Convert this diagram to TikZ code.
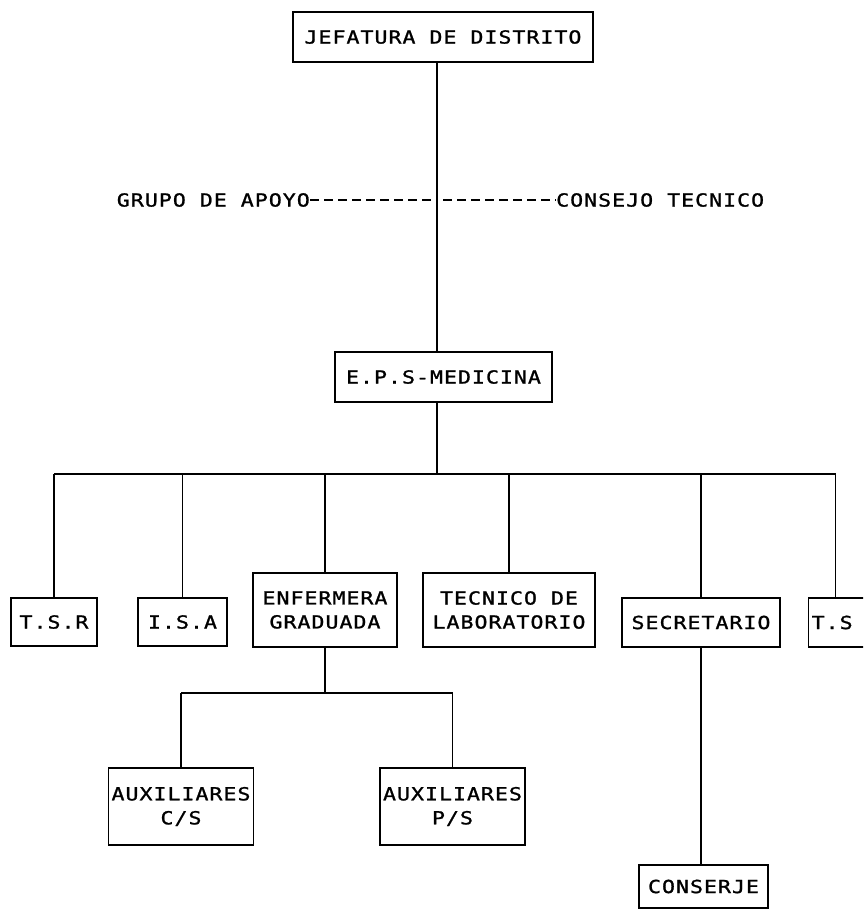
\documentclass[tikz,border=0pt]{standalone}
\usepackage{fontspec}
\newfontfamily\dotfont[FakeStretch=1.2, LetterSpace=5.5, FakeBold=1.2]{DejaVu Sans Mono}
\tikzset{
  every node/.style={font=\dotfont\fontsize{18}{24}\selectfont},
  box/.style={draw, line width=1.3pt, inner xsep=3pt, inner ysep=3pt, align=center},
  link/.style={line width=1.3pt},
  dashlink/.style={line width=1.1pt, dash pattern=on 9pt off 5pt},
  lbl/.style={inner sep=0pt}
}
\begin{document}
\begin{tikzpicture}[x=1pt,y=-1pt]
\useasboundingbox (0,0) rectangle (863,911);
\clip (0,0) rectangle (863,911);
% boxes
\node[box, minimum width=300pt, minimum height=50pt] (jef) at (443,37) {JEFATURA DE DISTRITO};
\node[box, minimum width=217pt, minimum height=50pt] (eps) at (443.5,377) {E.P.S-MEDICINA};
\node[box, minimum width=86pt, minimum height=48pt] (tsr) at (54,622) {T.S.R};
\node[box, minimum width=89pt, minimum height=48pt] (isa) at (182.5,622) {I.S.A};
\node[box, minimum width=144pt, minimum height=74pt] (enf) at (325,610) {ENFERMERA\\GRADUADA};
\node[box, minimum width=172pt, minimum height=74pt] (tec) at (509,610) {TECNICO DE\\LABORATORIO};
\node[box, minimum width=158pt, minimum height=49pt] (sec) at (701,622.5) {SECRETARIO};
\node[box, anchor=west, minimum height=49pt, text width=86pt, align=left] (ts) at (808,622.5) {T.S};
\node[box, minimum width=140pt, minimum height=77pt] (auxc) at (181,806.5) {AUXILIARES\\C/S};
\node[box, minimum width=141pt, minimum height=77pt] (auxp) at (452.5,806.5) {AUXILIARES\\P/S};
\node[box, minimum width=129pt, minimum height=43pt] (cons) at (703.5,886.5) {CONSERJE};
% side labels
\node[lbl, anchor=east] (grupo) at (310,200) {GRUPO DE APOYO};
\node[lbl, anchor=west] (consejo) at (556,200) {CONSEJO TECNICO};
% helper coordinates
\coordinate (spine) at (437,0);
\coordinate (busy) at (0,474);
\coordinate (suby) at (0,693);
\coordinate (dl) at (431,200);
\coordinate (dr) at (443,200);
\coordinate (tsdrop) at ([xshift=-19pt]ts.north);
% connectors
\draw[link] (jef.south -| spine) -- (eps.north -| spine);
\draw[link] (eps.south -| spine) -- (spine |- busy);
\draw[link] (tsr.north |- busy) -- (tsdrop |- busy);
\foreach \n in {tsr,isa,enf,tec,sec} \draw[link] (\n.north) -- (\n.north |- busy);
\draw[link] (tsdrop) -- (tsdrop |- busy);
\draw[link] (enf.south) -- (enf.south |- suby);
\draw[link] (auxc.north |- suby) -- (auxp.north |- suby);
\draw[link] (auxc.north) -- (auxc.north |- suby);
\draw[link] (auxp.north) -- (auxp.north |- suby);
\draw[link] (sec.south) -- (sec.south |- cons.north);
\draw[dashlink] (grupo.east) -- (dl);
\draw[dashlink] (dr) -- (consejo.west);
\end{tikzpicture}
\end{document}
